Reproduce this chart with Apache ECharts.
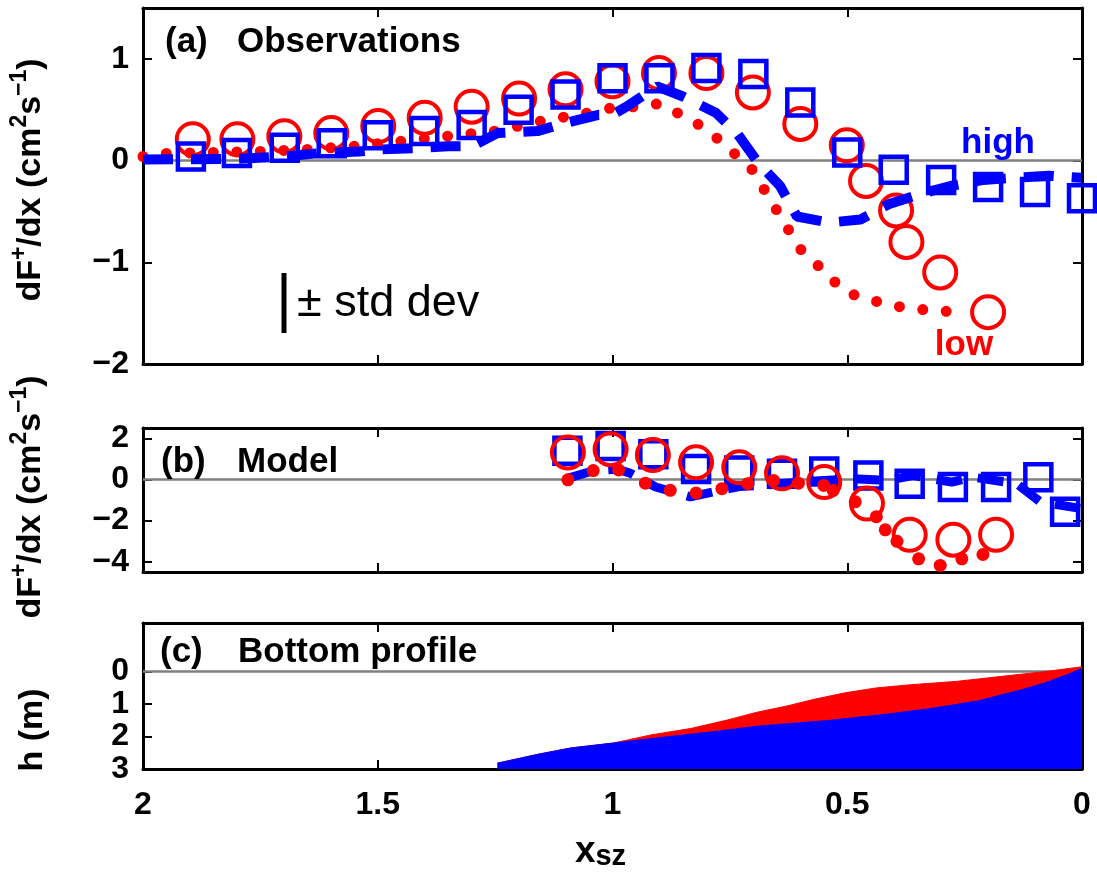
<!DOCTYPE html>
<html>
<head>
<meta charset="utf-8">
<script src="https://cdn.jsdelivr.net/npm/echarts@6/dist/echarts.min.js"></script>
<style>
  html, body { margin: 0; background: #fff; }
  #chart { width: 1097px; height: 872px; }
</style>
</head>
<body>
<div id="chart"></div>
<script>
// (a) observations: circles = low, squares = high
const obsLowX = [1.894, 1.799, 1.699, 1.599, 1.499, 1.4, 1.3, 1.199, 1.1, 1.0, 0.901, 0.8, 0.701, 0.6, 0.501, 0.46, 0.396, 0.374, 0.302, 0.2];
const obsLowY = [0.21, 0.21, 0.24, 0.27, 0.34, 0.42, 0.53, 0.61, 0.70, 0.78, 0.86, 0.86, 0.67, 0.36, 0.15, -0.2, -0.49, -0.8, -1.1, -1.49];
const obsHighX = [1.898, 1.8, 1.698, 1.598, 1.5, 1.401, 1.3, 1.2, 1.1, 1.0, 0.9, 0.8, 0.7, 0.6, 0.5, 0.401, 0.3, 0.2, 0.1, 0.0];
const obsHighY = [0.04, 0.075, 0.125, 0.17, 0.25, 0.29, 0.35, 0.50, 0.65, 0.81, 0.81, 0.91, 0.85, 0.57, 0.08, -0.09, -0.19, -0.26, -0.31, -0.37];
const obsLowLineX = [2.0, 1.95, 1.9, 1.85, 1.75, 1.65, 1.55, 1.45, 1.35, 1.25, 1.15, 1.05, 1.0, 0.95, 0.9, 0.85, 0.8, 0.75, 0.7, 0.675, 0.65, 0.625, 0.6, 0.575, 0.55, 0.525, 0.5, 0.45, 0.4, 0.35, 0.3, 0.25];
const obsLowLineY = [0.04, 0.07, 0.075, 0.08, 0.09, 0.11, 0.14, 0.19, 0.24, 0.29, 0.39, 0.47, 0.52, 0.53, 0.56, 0.44, 0.31, 0.11, -0.1, -0.3, -0.49, -0.68, -0.87, -0.97, -1.09, -1.2, -1.3, -1.37, -1.43, -1.46, -1.48, -1.49];
const obsHighLineX = [2.0, 1.8, 1.7, 1.62, 1.54, 1.49, 1.41, 1.35, 1.3, 1.245, 1.16, 1.1, 1.03, 1.0, 0.97, 0.905, 0.85, 0.78, 0.735, 0.69, 0.643, 0.607, 0.54, 0.472, 0.412, 0.345, 0.28, 0.21, 0.146, 0.07, 0.0];
const obsHighLineY = [0.01, 0.016, 0.04, 0.075, 0.09, 0.11, 0.125, 0.14, 0.14, 0.27, 0.29, 0.37, 0.45, 0.45, 0.53, 0.73, 0.63, 0.47, 0.27, -0.02, -0.25, -0.55, -0.61, -0.58, -0.43, -0.33, -0.25, -0.19, -0.17, -0.15, -0.17];

// (b) model
const modLowX = [1.095, 1.004, 0.914, 0.822, 0.73, 0.639, 0.549, 0.458, 0.367, 0.274, 0.183];
const modLowY = [1.31, 1.47, 1.19, 0.83, 0.59, 0.30, -0.13, -1.17, -2.69, -2.93, -2.69];
const modHighX = [1.096, 1.004, 0.913, 0.822, 0.73, 0.639, 0.549, 0.455, 0.367, 0.275, 0.183, 0.093, 0.036];
const modHighY = [1.39, 1.63, 1.23, 0.51, 0.43, 0.27, 0.38, 0.19, -0.21, -0.37, -0.37, 0.11, -1.57];
const modLowDotX = [1.095, 1.041, 0.987, 0.93, 0.877, 0.822, 0.767, 0.712, 0.657, 0.604, 0.55, 0.53, 0.483, 0.438, 0.419, 0.394, 0.348, 0.302, 0.256, 0.211];
const modLowDotY = [-0.02, 0.43, 0.46, -0.18, -0.53, -0.66, -0.45, -0.21, -0.05, -0.18, -0.29, -0.53, -1.09, -1.81, -2.45, -3.01, -3.86, -4.18, -3.86, -3.65];
const modHighLineX = [1.096, 1.04, 0.99, 0.962, 0.908, 0.834, 0.77, 0.73, 0.68, 0.64, 0.55, 0.487, 0.416, 0.36, 0.277, 0.232, 0.139, 0.089, 0.004];
const modHighLineY = [0.05, 0.43, 0.5, 0.3, -0.37, -0.85, -0.53, -0.35, -0.29, -0.2, -0.05, 0.03, -0.05, 0.19, -0.13, 0.11, -0.21, -1.09, -1.41];

// (c) bottom profile, depth h (m)
const bedLowX = [1.245, 1.16, 1.088, 0.998, 0.918, 0.833, 0.758, 0.692, 0.626, 0.57, 0.504, 0.438, 0.363, 0.268, 0.174, 0.08, 0.0];
const bedLowH = [2.82, 2.55, 2.35, 2.2, 1.95, 1.75, 1.5, 1.25, 1.05, 0.85, 0.65, 0.5, 0.4, 0.3, 0.15, 0.0, -0.15];
const bedHighX = [1.245, 1.16, 1.088, 0.998, 0.88, 0.786, 0.692, 0.537, 0.41, 0.315, 0.221, 0.127, 0.08, 0.033, 0.0];
const bedHighH = [2.82, 2.55, 2.35, 2.2, 2.0, 1.85, 1.68, 1.5, 1.3, 1.12, 0.9, 0.55, 0.35, 0.1, -0.1];

const yTicksA = [-2, -1, 0, 1];
const yTicksB = [-4, -2, 0, 2];
const yTicksC = [0, 1, 2, 3];

const FONT = '"Liberation Sans", Arial, Helvetica, sans-serif';
const RED = "#ff0000";
const BLUE = "#0000ff";

const zip = (xs, ys) => xs.map((x, i) => [x, ys[i]]);
const minus = v => String(v).replace("-", "\u2212");

const grids = [
    { left: 143, top: 8, width: 939, height: 356 },
    { left: 143, top: 428, width: 939, height: 144 },
    { left: 143, top: 623, width: 939, height: 146 }
];

function xAxisFor(gridIndex, position, showLabel) {
    const ax = {
        type: "value", gridIndex, position, min: 0, max: 2, interval: 0.5, inverse: true,
        axisLine: { show: true, onZero: false, lineStyle: { color: "#000", width: 3 } },
        axisTick: { show: true, inside: true, length: 9, lineStyle: { color: "#000", width: 2 } },
        splitLine: { show: false },
        axisLabel: {
            show: showLabel, margin: 20, color: "#000", fontFamily: FONT,
            fontWeight: "bold", fontSize: 32, formatter: minus
        }
    };
    if (showLabel) {
        ax.name = "{x|x}{s|sz}";
        ax.nameLocation = "middle";
        ax.nameGap = 64;
        ax.nameTextStyle = {
            padding: [0, 24, 0, 0],
            rich: {
                x: { fontFamily: FONT, fontWeight: "bold", fontSize: 37, color: "#000", lineHeight: 38 },
                s: { fontFamily: FONT, fontWeight: "bold", fontSize: 29, color: "#000", lineHeight: 34, verticalAlign: "bottom" }
            }
        };
    }
    return ax;
}

function yAxisFor(gridIndex, position, min, max, ticks, inverse) {
    return {
        type: "value", gridIndex, position, min, max, inverse: !!inverse,
        axisLine: { show: true, onZero: false, lineStyle: { color: "#000", width: 3 } },
        axisTick: { show: true, inside: true, length: 9, customValues: ticks, lineStyle: { color: "#000", width: 2 } },
        splitLine: { show: false },
        axisLabel: {
            show: position === "left", customValues: ticks, margin: 14, color: "#000",
            fontFamily: FONT, fontWeight: "bold", fontSize: 32, formatter: minus
        }
    };
}

const zeroLine = {
    silent: true, symbol: "none", z: 1,
    label: { show: false },
    lineStyle: { color: "#808080", width: 2.5, type: "solid" },
    data: [{ yAxis: 0 }]
};

function circles(data, xi, z) {
    return {
        type: "scatter", xAxisIndex: xi, yAxisIndex: xi, data, z,
        symbol: "circle", symbolSize: 32,
        itemStyle: { color: "rgba(0,0,0,0)", borderColor: RED, borderWidth: 4, opacity: 1 }
    };
}
function squares(data, xi, z) {
    return {
        type: "scatter", xAxisIndex: xi, yAxisIndex: xi, data, z,
        symbol: "rect", symbolSize: 26,
        itemStyle: { color: "rgba(0,0,0,0)", borderColor: BLUE, borderWidth: 4.5, opacity: 1 }
    };
}

const series = [
    // (a)
    {
        type: "line", xAxisIndex: 0, yAxisIndex: 0, data: zip(obsLowLineX, obsLowLineY), z: 2,
        showSymbol: false, symbol: "none",
        lineStyle: { color: RED, width: 11, type: [0, 23.5], cap: "round" },
        markLine: zeroLine
    },
    circles(zip(obsLowX, obsLowY), 0, 3),
    {
        type: "line", xAxisIndex: 0, yAxisIndex: 0, data: zip(obsHighLineX, obsHighLineY), z: 4,
        showSymbol: false, symbol: "none",
        lineStyle: { color: BLUE, width: 10, type: [30, 18], cap: "butt" }
    },
    squares(zip(obsHighX, obsHighY), 0, 5),
    // (b)
    {
        type: "line", xAxisIndex: 2, yAxisIndex: 2, data: zip(modHighLineX, modHighLineY), z: 2,
        showSymbol: false, symbol: "none",
        lineStyle: { color: BLUE, width: 9, type: [26, 16], cap: "butt" },
        markLine: zeroLine
    },
    squares(zip(modHighX, modHighY), 2, 3),
    {
        type: "scatter", xAxisIndex: 2, yAxisIndex: 2, data: zip(modLowDotX, modLowDotY), z: 4,
        symbol: "circle", symbolSize: 13, itemStyle: { color: RED, opacity: 1 }
    },
    circles(zip(modLowX, modLowY), 2, 5),
    // (c)
    {
        type: "line", xAxisIndex: 4, yAxisIndex: 4, data: zip(bedLowX, bedLowH), z: 2,
        showSymbol: false, symbol: "none",
        lineStyle: { color: RED, width: 1 },
        areaStyle: { color: RED, opacity: 1, origin: "end" },
        markLine: zeroLine
    },
    {
        type: "line", xAxisIndex: 4, yAxisIndex: 4, data: zip(bedHighX, bedHighH), z: 3,
        showSymbol: false, symbol: "none",
        lineStyle: { color: BLUE, width: 1 },
        areaStyle: { color: BLUE, opacity: 1, origin: "end" }
    }
];

const boldText = (x, y, text, fill, align) => ({
    type: "text", x, y, z: 50,
    style: { text, fill: fill || "#000", font: "bold 35px " + FONT, align: align || "left", verticalAlign: "middle" }
});

const yLabelRich = {
    m: { fontFamily: FONT, fontWeight: "bold", fontSize: 34, lineHeight: 46, fill: "#000" },
    s: { fontFamily: FONT, fontWeight: "bold", fontSize: 23, lineHeight: 23, fill: "#000", verticalAlign: "top" }
};
const yLabel = (cx, cy) => ({
    type: "text", x: cx, y: cy, rotation: Math.PI / 2, z: 50,
    style: {
        text: "{m|dF}{s|+}{m|/dx (cm}{s|2}{m|s}{s|\u22121}{m|)}",
        rich: yLabelRich, align: "center", verticalAlign: "middle"
    }
});

const graphic = [
    boldText(165, 42, "(a)"), boldText(237, 42, "Observations"),
    boldText(161, 462, "(b)"), boldText(237, 462, "Model"),
    boldText(160, 652, "(c)"), boldText(238, 652, "Bottom profile"),
    boldText(998, 143, "high", BLUE, "center"), boldText(964, 345, "low", RED, "center"),
    {
        type: "line", z: 50,
        shape: { x1: 284, y1: 273, x2: 284, y2: 333 },
        style: { stroke: "#000", lineWidth: 5 }
    },
    {
        type: "text", x: 297, y: 304, z: 50,
        style: { text: "\u00b1 std dev", fill: "#000", font: "45px " + FONT, align: "left", verticalAlign: "middle" }
    },
    yLabel(31, 180),
    yLabel(31, 497),
    {
        type: "text", x: 33, y: 730, rotation: Math.PI / 2, z: 50,
        style: { text: "h (m)", fill: "#000", font: "bold 34px " + FONT, align: "center", verticalAlign: "middle" }
    }
];

const option = {
    animation: false,
    backgroundColor: "#fff",
    grid: grids,
    xAxis: [
        xAxisFor(0, "bottom", false), xAxisFor(0, "top", false),
        xAxisFor(1, "bottom", false), xAxisFor(1, "top", false),
        xAxisFor(2, "bottom", true), xAxisFor(2, "top", false)
    ],
    yAxis: [
        yAxisFor(0, "left", -2, 1.5, yTicksA), yAxisFor(0, "right", -2, 1.5, yTicksA),
        yAxisFor(1, "left", -4.5, 2.5, yTicksB), yAxisFor(1, "right", -4.5, 2.5, yTicksB),
        yAxisFor(2, "left", -1.5, 3, yTicksC, true), yAxisFor(2, "right", -1.5, 3, yTicksC, true)
    ],
    series,
    graphic
};

const chart = echarts.init(document.getElementById("chart"));
chart.setOption(option);
</script>
</body>
</html>
